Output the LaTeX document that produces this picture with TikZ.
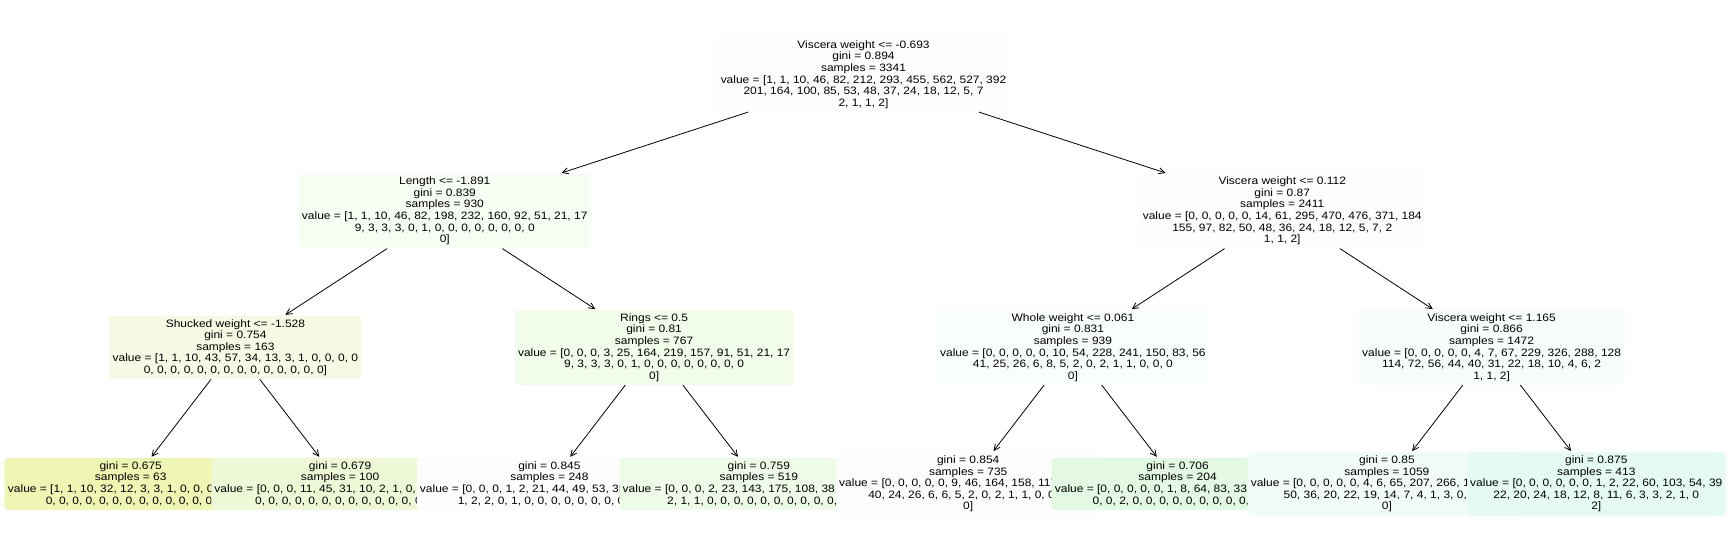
\documentclass[tikz,border=0pt]{standalone}
\usepackage{fontspec}
\setmainfont{Liberation Sans}[FakeStretch=1.12]
\usetikzlibrary{arrows.meta}
\definecolor{croot}{HTML}{FDFEFC}
\definecolor{clen}{HTML}{F7FDF3}
\definecolor{cvr}{HTML}{FBFEFC}
\definecolor{csh}{HTML}{F5FAE5}
\definecolor{cri}{HTML}{F1FCEB}
\definecolor{cwh}{HTML}{FAFEFA}
\definecolor{cvr2}{HTML}{F7FDF9}
\definecolor{cla}{HTML}{EFF5B3}
\definecolor{clb}{HTML}{EEF8D6}
\definecolor{clc}{HTML}{FDFEFC}
\definecolor{cld}{HTML}{EFFBE9}
\definecolor{cle}{HTML}{FBFEFA}
\definecolor{clf}{HTML}{E3F9E3}
\definecolor{clg}{HTML}{F2FCF6}
\definecolor{clh}{HTML}{E5FAF1}
\tikzset{
  tn/.style={rounded corners=3.1bp, inner xsep=3.2bp, inner ysep=3.4bp, align=center,
    font=\fontsize{10.7bp}{11.6bp}\selectfont, text=black},
  arr/.style={-{Straight Barb[length=6bp,width=6bp]}, line width=0.8bp, shorten >=1.5bp, black}
}
\begin{document}
\begin{tikzpicture}[x=1bp,y=-1bp]
\useasboundingbox (0,0) rectangle (1730,558);
\fill[white] (0,0) rectangle (1730,558);
% level 0
\node[tn, fill=croot] (root) at (863.5,74.5) {Viscera weight <= -0.693\\gini = 0.894\\samples = 3341\\value = [1, 1, 10, 46, 82, 212, 293, 455, 562, 527, 392\\201, 164, 100, 85, 53, 48, 37, 24, 18, 12, 5, 7\\2, 1, 1, 2]};
% level 1
\node[tn, fill=clen] (len) at (444.75,211) {Length <= -1.891\\gini = 0.839\\samples = 930\\value = [1, 1, 10, 46, 82, 198, 232, 160, 92, 51, 21, 17\\9, 3, 3, 3, 0, 1, 0, 0, 0, 0, 0, 0, 0, 0\\0]};
\node[tn, fill=cvr] (vr) at (1282.25,211) {Viscera weight <= 0.112\\gini = 0.87\\samples = 2411\\value = [0, 0, 0, 0, 0, 14, 61, 295, 470, 476, 371, 184\\155, 97, 82, 50, 48, 36, 24, 18, 12, 5, 7, 2\\1, 1, 2]};
% level 2
\node[tn, fill=csh] (sh) at (235.4,347.5) {Shucked weight <= -1.528\\gini = 0.754\\samples = 163\\value = [1, 1, 10, 43, 57, 34, 13, 3, 1, 0, 0, 0, 0\\0, 0, 0, 0, 0, 0, 0, 0, 0, 0, 0, 0, 0, 0]};
\node[tn, fill=cri] (ri) at (654.1,347.5) {Rings <= 0.5\\gini = 0.81\\samples = 767\\value = [0, 0, 0, 3, 25, 164, 219, 157, 91, 51, 21, 17\\9, 3, 3, 3, 0, 1, 0, 0, 0, 0, 0, 0, 0, 0\\0]};
\node[tn, fill=cwh] (wh) at (1072.9,347.5) {Whole weight <= 0.061\\gini = 0.831\\samples = 939\\value = [0, 0, 0, 0, 0, 10, 54, 228, 241, 150, 83, 56\\41, 25, 26, 6, 8, 5, 2, 0, 2, 1, 1, 0, 0, 0\\0]};
\node[tn, fill=cvr2] (vs) at (1491.6,347.5) {Viscera weight <= 1.165\\gini = 0.866\\samples = 1472\\value = [0, 0, 0, 0, 0, 4, 7, 67, 229, 326, 288, 128\\114, 72, 56, 44, 40, 31, 22, 18, 10, 4, 6, 2\\1, 1, 2]};
% leaves
\node[tn, fill=cla] (la) at (130.7,484) {gini = 0.675\\samples = 63\\value = [1, 1, 10, 32, 12, 3, 3, 1, 0, 0, 0, 0, 0, 0\\0, 0, 0, 0, 0, 0, 0, 0, 0, 0, 0, 0, 0]};
\node[tn, fill=clb] (lb) at (340.1,484) {gini = 0.679\\samples = 100\\value = [0, 0, 0, 11, 45, 31, 10, 2, 1, 0, 0, 0, 0, 0\\0, 0, 0, 0, 0, 0, 0, 0, 0, 0, 0, 0, 0]};
\node[tn, fill=clc] (lc) at (549.4,484) {gini = 0.845\\samples = 248\\value = [0, 0, 0, 1, 2, 21, 44, 49, 53, 35, 19, 12, 6\\1, 2, 2, 0, 1, 0, 0, 0, 0, 0, 0, 0, 0, 0]};
\node[tn, fill=cld] (ld) at (758.8,484) {gini = 0.759\\samples = 519\\value = [0, 0, 0, 2, 23, 143, 175, 108, 38, 16, 2, 5, 3\\2, 1, 1, 0, 0, 0, 0, 0, 0, 0, 0, 0, 0, 0]};
\node[tn, fill=cle] (le) at (968.2,484) {gini = 0.854\\samples = 735\\value = [0, 0, 0, 0, 0, 9, 46, 164, 158, 117, 75, 53\\40, 24, 26, 6, 6, 5, 2, 0, 2, 1, 1, 0, 0, 0\\0]};
\node[tn, fill=clf] (lf) at (1177.6,484) {gini = 0.706\\samples = 204\\value = [0, 0, 0, 0, 0, 1, 8, 64, 83, 33, 8, 3, 1, 1\\0, 0, 2, 0, 0, 0, 0, 0, 0, 0, 0, 0, 0]};
\node[tn, fill=clg] (lg) at (1386.9,484) {gini = 0.85\\samples = 1059\\value = [0, 0, 0, 0, 0, 4, 6, 65, 207, 266, 185, 74, 75\\50, 36, 20, 22, 19, 14, 7, 4, 1, 3, 0, 0, 1\\0]};
\node[tn, fill=clh] (lh) at (1596.3,484) {gini = 0.875\\samples = 413\\value = [0, 0, 0, 0, 0, 0, 1, 2, 22, 60, 103, 54, 39\\22, 20, 24, 18, 12, 8, 11, 6, 3, 3, 2, 1, 0\\2]};
% connectors
\draw[arr] (root) -- (len);
\draw[arr] (root) -- (vr);
\draw[arr] (len) -- (sh);
\draw[arr] (len) -- (ri);
\draw[arr] (vr) -- (wh);
\draw[arr] (vr) -- (vs);
\draw[arr] (sh) -- (la);
\draw[arr] (sh) -- (lb);
\draw[arr] (ri) -- (lc);
\draw[arr] (ri) -- (ld);
\draw[arr] (wh) -- (le);
\draw[arr] (wh) -- (lf);
\draw[arr] (vs) -- (lg);
\draw[arr] (vs) -- (lh);
\end{tikzpicture}
\end{document}
